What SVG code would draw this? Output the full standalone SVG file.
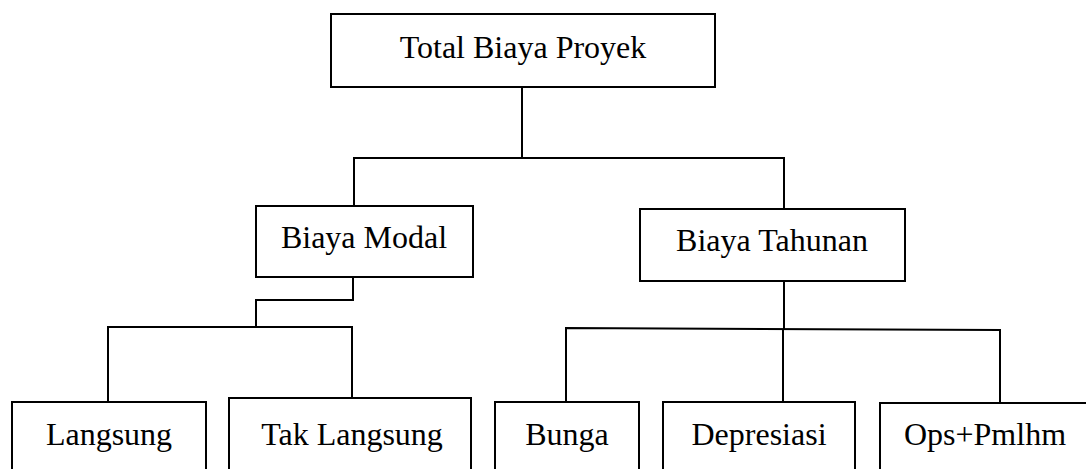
<svg xmlns="http://www.w3.org/2000/svg" width="1086" height="469" viewBox="0 0 1086 469">
<style>
.box{fill:#fff;stroke:#000;stroke-width:2}
.lbl{font-family:"Liberation Serif","Times New Roman",serif;font-size:32px;fill:#000;text-anchor:middle}
.con{fill:none;stroke:#000;stroke-width:2}
</style>
<rect width="1086" height="469" fill="#fff"/>
<g id="connectors">
<polyline class="con" points="522,87 522,158"/>
<polyline class="con" points="354,206 354,158 784,158 784,209"/>
<polyline class="con" points="353,277 353,300 256,300 256,327"/>
<polyline class="con" points="108,402 108,327 352,327 352,398"/>
<polyline class="con" points="784,281 784,329"/>
<polyline class="con" points="566,402 566,328 1000,330 1000,403"/>
<polyline class="con" points="783,329 783,402"/>
</g>
<g id="total">
<rect class="box" x="331" y="14" width="384" height="73"/>
<text class="lbl" x="523" y="58">Total Biaya Proyek</text>
</g>
<g id="modal">
<rect class="box" x="256" y="206" width="217" height="71"/>
<text class="lbl" x="364" y="248">Biaya Modal</text>
</g>
<g id="tahunan">
<rect class="box" x="640" y="209" width="265" height="72"/>
<text class="lbl" x="772" y="251">Biaya Tahunan</text>
</g>
<g id="langsung">
<rect class="box" x="12" y="402" width="194" height="80"/>
<text class="lbl" x="109" y="445">Langsung</text>
</g>
<g id="taklangsung">
<rect class="box" x="229" y="398" width="242" height="84"/>
<text class="lbl" x="352" y="445">Tak Langsung</text>
</g>
<g id="bunga">
<rect class="box" x="495" y="402" width="144" height="80"/>
<text class="lbl" x="567" y="445">Bunga</text>
</g>
<g id="depresiasi">
<rect class="box" x="663" y="402" width="192" height="80"/>
<text class="lbl" x="759" y="445">Depresiasi</text>
</g>
<g id="ops">
<rect class="box" x="880" y="403" width="220" height="80"/>
<text class="lbl" x="985" y="445">Ops+Pmlhm</text>
</g>
</svg>
